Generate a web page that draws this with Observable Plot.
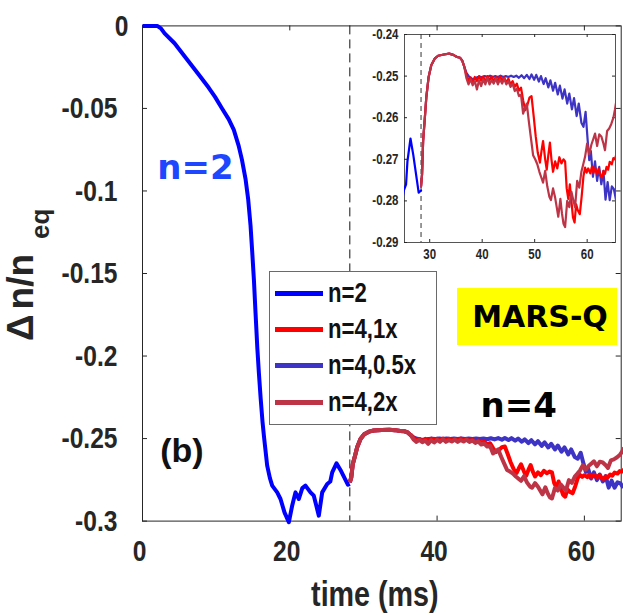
<!DOCTYPE html>
<html><head><meta charset="utf-8">
<script src="https://cdn.jsdelivr.net/npm/d3@7"></script>
<script src="https://cdn.jsdelivr.net/npm/@observablehq/plot@0.6"></script>
<style>
html,body{margin:0;padding:0;background:#fff;}
#wrap{position:relative;width:623px;height:615px;overflow:hidden;font-family:"Liberation Sans",Arial,sans-serif;font-weight:bold;color:#262626;}
#wrap svg{position:absolute;}
#legend{position:absolute;left:269px;top:271px;width:168px;height:154px;border:1px solid #6a6a6a;background:#fff;box-sizing:border-box;padding-top:3px;}
#legend .row{height:36.3px;display:flex;align-items:center;white-space:nowrap;font-size:27px;color:#111;}
#legend .sw{display:inline-block;width:48px;height:5px;margin-left:5px;margin-right:5px;flex:none;}
#legend .lab{display:inline-block;transform:scaleX(0.82);transform-origin:0 50%;}
#tag{position:absolute;left:457px;top:288px;width:160px;height:57px;background:#ffff00;display:flex;align-items:center;justify-content:center;font-family:"DejaVu Sans",sans-serif;font-weight:bold;font-size:30px;color:#000;padding-left:6px;box-sizing:border-box;}
</style></head><body><div id="wrap"></div>
<script>
// ---------- data ----------
const tSwitch = 28.15;
const xTicks = [0, 20, 40, 60];
const xTickLabels = ["0", "20", "40", "60"];
const yTicks = [0, -0.05, -0.1, -0.15, -0.2, -0.25, -0.3];
const yTickLabels = ["0", "-0.05", "-0.1", "-0.15", "-0.2", "-0.25", "-0.3"];
const insetXTicks = [30, 40, 50, 60];
const insetYTicks = [-0.24, -0.25, -0.26, -0.27, -0.28, -0.29];
const insetYTickLabels = ["-0.24", "-0.25", "-0.26", "-0.27", "-0.28", "-0.29"];
const seriesNames = ["n=2", "n=4,1x", "n=4,0.5x", "n=4,2x"];
const seriesColors = ["#0000ff", "#ff0000", "#3d33c4", "#bd3447"];

const n2Data = [[0,0],[1,0],[2.0,0],[2.5,-0.0015],[3.0,-0.0045],[4.35,-0.0105],[6.0,-0.0200],[7.55,-0.0290],[9.0,-0.0375],[9.85,-0.0430],[10.8,-0.0500],[11.7,-0.0565],[12.4,-0.0630],[13.06,-0.0727],[13.5,-0.0810],[14.0,-0.0930],[14.35,-0.1050],[14.67,-0.1210],[14.9,-0.1370],[15.13,-0.1540],[15.35,-0.1740],[15.59,-0.1950],[15.8,-0.2100],[16.05,-0.2260],[16.3,-0.2400],[16.5,-0.2490],[16.93,-0.2664],[17.3,-0.2740],[17.61,-0.2785],[18.29,-0.2826],[18.74,-0.2866],[19.28,-0.2947],[19.87,-0.3007],[20.32,-0.2907],[20.77,-0.2826],[21.23,-0.2866],[21.7,-0.2800],[22.13,-0.2785],[22.81,-0.2826],[23.26,-0.2846],[23.94,-0.2967],[24.4,-0.2826],[25.08,-0.2775],[25.5,-0.2760],[25.76,-0.2705],[26.34,-0.2650],[26.88,-0.2690],[27.56,-0.2750],[27.9,-0.2780],[28.15,-0.2775]];

const n4Rise = [[28.15,-0.2765],[28.35,-0.2735],[28.55,-0.2655],[28.85,-0.2605],[29.15,-0.2552],[29.6,-0.2502],[30.1,-0.2474],[30.75,-0.2458],[31.4,-0.2451],[32.5,-0.2448],[33.5,-0.2446],[34.3,-0.2449],[35.0,-0.2454],[35.6,-0.2456],[36.0,-0.2463],[36.4,-0.2478]];

const n4x05Tail = [[36.8,-0.2492],[37.3,-0.2501],[37.8,-0.2506],[38.3,-0.2507],[38.8,-0.2503],[39.3,-0.2501],[39.8,-0.2503],[40.3,-0.2500],[40.8,-0.2502],[41.3,-0.2499],[41.8,-0.2502],[42.3,-0.2500],[42.8,-0.2502],[43.3,-0.2499],[43.8,-0.2502],[44.3,-0.2500],[44.8,-0.2502],[45.3,-0.2499],[45.8,-0.2502],[46.3,-0.2499],[46.8,-0.2504],[47.3,-0.2498],[47.8,-0.2505],[48.3,-0.2497],[48.8,-0.2507],[49.2,-0.2496],[49.7,-0.2509],[50.1,-0.2497],[50.6,-0.2513],[51.0,-0.2500],[51.5,-0.2519],[51.9,-0.2505],[52.4,-0.2527],[52.8,-0.2510],[53.3,-0.2535],[53.7,-0.2516],[54.2,-0.2544],[54.6,-0.2523],[55.1,-0.2554],[55.5,-0.2532],[56.0,-0.2566],[56.4,-0.2542],[56.9,-0.2580],[57.3,-0.2553],[57.8,-0.2596],[58.2,-0.2566],[58.7,-0.2612],[59.1,-0.2622],[59.5,-0.2586],[59.9,-0.2655],[60.2,-0.2702],[60.5,-0.2680],[60.9,-0.2742],[61.3,-0.2705],[61.7,-0.2752],[62.1,-0.2718],[62.5,-0.2760],[62.9,-0.2728],[63.3,-0.2797],[63.7,-0.2755],[64.1,-0.2798],[64.5,-0.2765],[64.9,-0.2772],[65.3,-0.2798]];

const n4x1Tail = [[36.8,-0.2497],[37.2,-0.2510],[37.6,-0.2503],[38.0,-0.2514],[38.4,-0.2502],[38.8,-0.2512],[39.2,-0.2500],[39.6,-0.2511],[40.0,-0.2501],[40.4,-0.2514],[40.8,-0.2500],[41.2,-0.2510],[41.6,-0.2501],[42.0,-0.2513],[42.4,-0.2502],[42.8,-0.2512],[43.2,-0.2500],[43.6,-0.2511],[44.0,-0.2503],[44.4,-0.2516],[44.8,-0.2506],[45.2,-0.2520],[45.6,-0.2512],[46.0,-0.2526],[46.4,-0.2518],[46.8,-0.2535],[47.2,-0.2528],[47.6,-0.2558],[48.0,-0.2582],[48.4,-0.2570],[48.8,-0.2552],[49.2,-0.2548],[49.6,-0.2595],[50.0,-0.2645],[50.4,-0.2685],[50.8,-0.2708],[51.1,-0.2680],[51.4,-0.2656],[51.8,-0.2700],[52.1,-0.2725],[52.4,-0.2690],[52.7,-0.2660],[53.0,-0.2700],[53.3,-0.2730],[53.7,-0.2705],[54.1,-0.2722],[54.5,-0.2695],[54.9,-0.2710],[55.3,-0.2700],[55.6,-0.2705],[55.9,-0.2770],[56.2,-0.2795],[56.5,-0.2760],[56.8,-0.2800],[57.1,-0.2840],[57.4,-0.2852],[57.7,-0.2808],[58.0,-0.2822],[58.4,-0.2832],[58.75,-0.2790],[59.1,-0.2740],[59.4,-0.2720],[59.7,-0.2732],[60.0,-0.2722],[60.4,-0.2734],[60.7,-0.2718],[61.0,-0.2733],[61.3,-0.2720],[61.7,-0.2735],[62.0,-0.2722],[62.3,-0.2738],[62.6,-0.2744],[62.9,-0.2728],[63.2,-0.2735],[63.5,-0.2718],[63.8,-0.2725],[64.1,-0.2706],[64.5,-0.2712],[64.8,-0.2697],[65.1,-0.2700],[65.4,-0.2686]];

const n4x2Tail = [[36.8,-0.2505],[37.2,-0.2520],[37.6,-0.2508],[38.0,-0.2522],[38.4,-0.2512],[38.8,-0.2532],[39.2,-0.2510],[39.6,-0.2524],[40.0,-0.2508],[40.4,-0.2520],[40.8,-0.2504],[41.2,-0.2520],[41.6,-0.2510],[42.0,-0.2518],[42.4,-0.2506],[42.8,-0.2520],[43.2,-0.2508],[43.6,-0.2518],[44.0,-0.2506],[44.4,-0.2520],[44.8,-0.2512],[45.2,-0.2526],[45.6,-0.2518],[46.0,-0.2536],[46.4,-0.2530],[46.8,-0.2548],[47.2,-0.2545],[47.6,-0.2590],[48.0,-0.2575],[48.3,-0.2566],[48.7,-0.2610],[49.1,-0.2650],[49.5,-0.2690],[49.9,-0.2700],[50.3,-0.2712],[50.7,-0.2730],[51.1,-0.2745],[51.4,-0.2756],[51.8,-0.2728],[52.2,-0.2765],[52.6,-0.2790],[52.9,-0.2798],[53.3,-0.2770],[53.7,-0.2792],[54.0,-0.2815],[54.3,-0.2838],[54.7,-0.2795],[55.0,-0.2830],[55.3,-0.2855],[55.6,-0.2863],[56.0,-0.2800],[56.4,-0.2815],[56.8,-0.2778],[57.2,-0.2800],[57.5,-0.2815],[57.9,-0.2752],[58.3,-0.2768],[58.7,-0.2730],[59.0,-0.2715],[59.4,-0.2694],[59.8,-0.2662],[60.2,-0.2688],[60.6,-0.2665],[61.0,-0.2650],[61.3,-0.2638],[61.7,-0.2668],[62.1,-0.2640],[62.5,-0.2645],[62.9,-0.2662],[63.2,-0.2678],[63.6,-0.2632],[64.0,-0.2626],[64.4,-0.2615],[64.8,-0.2600],[65.1,-0.2580],[65.4,-0.2556]];

const annotations = [
  {label: "n=2", t: 2.0, v: -0.0925, color: "#1e46ff", size: 34, font: '"DejaVu Sans",sans-serif'},
  {label: "n=4", t: 45.9, v: -0.2371, color: "#000000", size: 34, font: '"DejaVu Sans",sans-serif'},
  {label: "(b)", t: 2.4, v: -0.2640, color: "#111111", size: 34, font: '"Liberation Sans",Arial,sans-serif'}
];
const xLabel = "time (ms)";

// ---------- series ----------
const series = [
  {name: seriesNames[0], color: seriesColors[0], data: n2Data},
  {name: seriesNames[2], color: seriesColors[2], data: n4Rise.concat(n4x05Tail)},
  {name: seriesNames[1], color: seriesColors[1], data: n4Rise.concat(n4x1Tail)},
  {name: seriesNames[3], color: seriesColors[3], data: n4Rise.concat(n4x2Tail)}
];

const W = 623, H = 615;
const mL = 142, mR = 2.3, mT = 25.4, mB = 94.4;
const pW = W - mL - mR, pH = H - mT - mB;
const axisColor = "#262626";
const fontFam = '"Liberation Sans",Arial,sans-serif';
const narrow = 0.82;

// horizontally condense text (Arial Narrow look)
function condense(svg, keep, sx) {
  d3.select(svg).selectAll("text").filter(keep).each(function() {
    const x = +this.getAttribute("x") || 0, y = +this.getAttribute("y") || 0;
    const t = this.getAttribute("transform") || "";
    this.setAttribute("transform", `${t} translate(${x},${y}) scale(${sx},1) translate(${-x},${-y})`);
  });
}

const main = Plot.plot({
  width: W, height: H,
  marginLeft: mL, marginRight: mR, marginTop: mT, marginBottom: mB,
  x: {domain: [0, 65]},
  y: {domain: [-0.3, 0]},
  style: {background: "none", overflow: "visible", fontFamily: fontFam, fontWeight: "bold", fontSize: "30px", color: axisColor},
  marks: [
    Plot.frame({stroke: axisColor, strokeWidth: 1}),
    Plot.tickX(xTicks, {x: d => d, insetTop: pH - 5, stroke: axisColor}),
    Plot.tickX(xTicks, {x: d => d, insetBottom: pH - 5, stroke: axisColor}),
    Plot.tickY(yTicks, {y: d => d, insetRight: pW - 5, stroke: axisColor}),
    Plot.tickY(yTicks, {y: d => d, insetLeft: pW - 5, stroke: axisColor}),
    Plot.ruleX([tSwitch], {stroke: "#111", strokeWidth: 1, strokeDasharray: "9,5"}),
    ...series.map(s => Plot.line(s.data, {x: d => d[0], y: d => d[1], stroke: s.color, strokeWidth: 4, strokeLinejoin: "round", strokeLinecap: "butt"})),
    Plot.axisX(xTicks, {tickSize: 0, tickPadding: 19, dx: -3, tickFormat: d => xTickLabels[xTicks.indexOf(d)], label: null, fontSize: 30}),
    Plot.axisY(yTicks.filter(d => d !== 0), {tickSize: 0, tickPadding: 25, tickFormat: d => yTickLabels[yTicks.indexOf(d)], label: null, fontSize: 30}),
    Plot.axisY([0], {tickSize: 0, tickPadding: 14, tickFormat: d => yTickLabels[yTicks.indexOf(d)], label: null, fontSize: 30}),
    Plot.text([xLabel], {text: d => d, frameAnchor: "bottom", dy: 84.4, dx: -7, lineAnchor: "bottom", fontSize: 35, fontWeight: "bold", fill: axisColor}),
    ...annotations.map(a => Plot.text([a], {x: "t", y: "v", text: "label", fill: a.color, fontSize: a.size, fontWeight: "bold", textAnchor: "start", lineAnchor: "bottom", fontFamily: a.font}))
  ]
});
main.style.left = "0px"; main.style.top = "0px";
const condensedTexts = new Set([...xTickLabels, ...yTickLabels, xLabel]);
condense(main, function() { return condensedTexts.has(this.textContent); }, narrow);

// y label with subscript
const yl = d3.select(main).append("text")
  .attr("transform", "translate(33,341) rotate(-90)")
  .attr("text-anchor", "start")
  .attr("font-size", 37).attr("font-weight", "bold").attr("fill", axisColor)
  .attr("font-family", fontFam);
yl.append("tspan").text("Δ");
yl.append("tspan").attr("dx", 5).text("n/n");
yl.append("tspan").attr("font-size", 26).attr("dx", 15).attr("dy", 16).text("eq");

// ---------- inset ----------
const iL = 40, iR = 8, iT = 8, iB = 22;
const iW = 259, iH = 238;
const inset = Plot.plot({
  width: iW, height: iH,
  marginLeft: iL, marginRight: iR, marginTop: iT, marginBottom: iB,
  x: {domain: [25.2, 65.4]},
  y: {domain: [-0.29, -0.24]},
  style: {background: "none", overflow: "visible", fontFamily: fontFam, fontWeight: "bold", fontSize: "14px", color: axisColor},
  marks: [
    Plot.frame({fill: "white", stroke: "#555", strokeWidth: 1}),
    Plot.tickX(insetXTicks, {x: d => d, insetTop: iH - iT - iB - 3, stroke: axisColor}),
    Plot.tickX(insetXTicks, {x: d => d, insetBottom: iH - iT - iB - 3, stroke: axisColor}),
    Plot.tickY(insetYTicks, {y: d => d, insetRight: iW - iL - iR - 3, stroke: axisColor}),
    Plot.tickY(insetYTicks, {y: d => d, insetLeft: iW - iL - iR - 3, stroke: axisColor}),
    Plot.ruleX([tSwitch + 0.2], {stroke: "#333", strokeWidth: 1, strokeDasharray: "5,4"}),
    ...series.map(s => Plot.line(s.data, {x: d => d[0] + (d[0] >= tSwitch ? 0.2 : 0), y: d => d[1], stroke: s.color, strokeWidth: 2.2, strokeLinejoin: "round", clip: true})),
    Plot.axisX(insetXTicks, {tickSize: 0, tickPadding: 7, label: null, fontSize: 14}),
    Plot.axisY(insetYTicks, {tickSize: 0, tickPadding: 6, tickFormat: d => insetYTickLabels[insetYTicks.indexOf(d)], label: null, fontSize: 14})
  ]
});
inset.style.left = "364px"; inset.style.top = "26.3px";
condense(inset, function() { return this.textContent.length > 0; }, narrow);

const wrap = document.getElementById("wrap");
wrap.appendChild(main);
wrap.appendChild(inset);

// ---------- legend ----------
const legend = document.createElement("div");
legend.id = "legend";
seriesNames.forEach((name, i) => {
  const row = document.createElement("div");
  row.className = "row";
  const sw = document.createElement("span");
  sw.className = "sw";
  sw.style.background = seriesColors[i];
  const lab = document.createElement("span");
  lab.className = "lab";
  lab.textContent = name;
  row.appendChild(sw); row.appendChild(lab);
  legend.appendChild(row);
});
wrap.appendChild(legend);

const tag = document.createElement("div");
tag.id = "tag";
tag.textContent = "MARS-Q";
wrap.appendChild(tag);
</script></body></html>
